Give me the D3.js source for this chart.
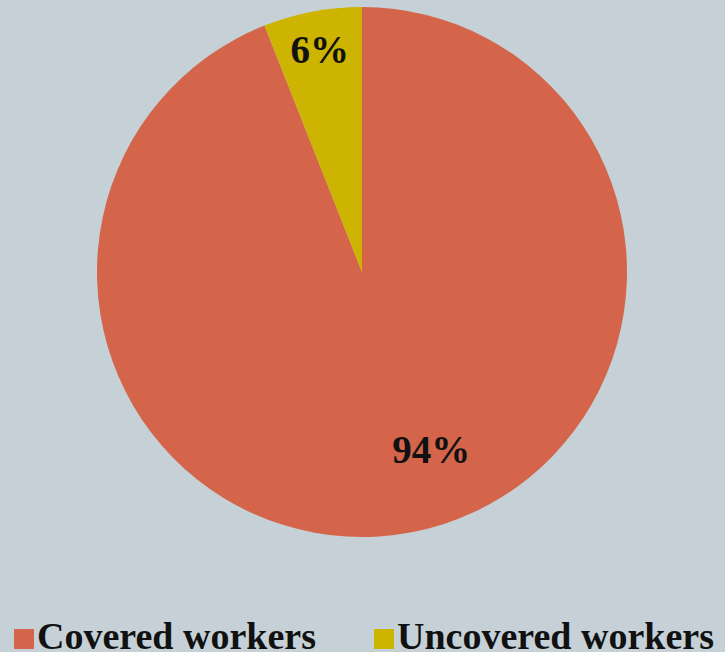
<!DOCTYPE html>
<html>
<head>
<meta charset="utf-8">
<script src="https://cdn.jsdelivr.net/npm/d3@7"></script>
<style>
  html, body { margin: 0; padding: 0; background: #c5d1d7; }
  svg { display: block; }
</style>
</head>
<body>
<svg id="chart" width="725" height="652"></svg>
<script>
// Share of workers
var categories = ["Covered workers", "Uncovered workers"];
var shares = [94, 6];
var labels = ["94%", "6%"];
var colors = ["#d4654a", "#cdb400"];

var W = 725, H = 652,
	cx = 362, cy = 272, radius = 265;

var svg = d3.select("#chart");

svg.append("rect")
	.attr("width", W)
	.attr("height", H)
	.attr("fill", "#c5d1d7");

var data = categories.map(function(c, i){
	return { name: c, value: shares[i], label: labels[i], color: colors[i] };
});

// run the pie clockwise from 12 o'clock, small slice ends up just left of the top
var pie = d3.pie()
	.sort(null)
	.value(function(d){ return d.value; })
	.startAngle(0)
	.endAngle(Math.PI * 2);

var arc = d3.arc().innerRadius(0).outerRadius(radius);

var g = svg.append("g").attr("transform", "translate(" + cx + "," + cy + ")");

var arcs = pie(data);

g.selectAll("path")
	.data(arcs)
	.enter()
	.append("path")
	.attr("d", arc)
	.attr("fill", function(d){ return d.data.color; });

// where each label sits: fraction along the slice's sweep, fraction of radius
var labelSweep = [0.469, 0.5];
var labelRadius = [0.72, 0.853];

g.selectAll("text")
	.data(arcs)
	.enter()
	.append("text")
	.attr("transform", function(d, i){
		var r = radius * labelRadius[i],
			a = d.startAngle + (d.endAngle - d.startAngle) * labelSweep[i];
		return "translate(" + (r * Math.sin(a)) + "," + (-r * Math.cos(a)) + ")";
	})
	.attr("text-anchor", "middle")
	.attr("dy", "0.34em")
	.style("font-family", "'Liberation Serif', 'Times New Roman', serif")
	.style("font-weight", "bold")
	.style("font-size", "39px")
	.attr("fill", "#111")
	.text(function(d){ return d.data.label; });

// legend
var legendX = [14, 374];
var legend = svg.selectAll("g.legend")
	.data(data)
	.enter()
	.append("g")
	.attr("class", "legend")
	.attr("transform", function(d, i){ return "translate(" + legendX[i] + ",629)"; });

legend.append("rect")
	.attr("width", 20)
	.attr("height", 20)
	.attr("fill", function(d){ return d.color; });

legend.append("text")
	.attr("x", 23)
	.attr("y", 20)
	.style("font-family", "'Liberation Serif', 'Times New Roman', serif")
	.style("font-weight", "bold")
	.style("font-size", "38px")
	.attr("fill", "#111")
	.text(function(d){ return d.name; });
</script>
</body>
</html>
